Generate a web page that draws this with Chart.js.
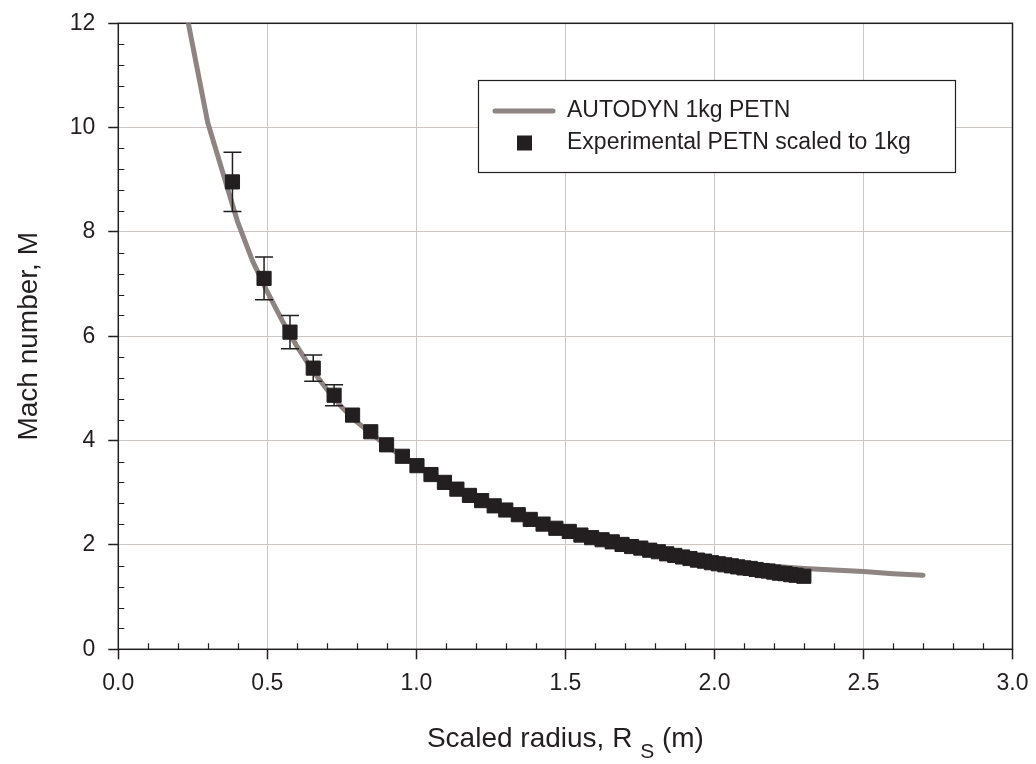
<!DOCTYPE html>
<html>
<head>
<meta charset="utf-8">
<script src="https://cdn.jsdelivr.net/npm/chart.js@4.4.1/dist/chart.umd.min.js"></script>
<style>
  html, body { margin: 0; padding: 0; background: #fff; }
  canvas { display: block; }
</style>
</head>
<body>
<canvas id="machChart" width="1036" height="764"></canvas>
<script>
// AUTODYN simulation, 1 kg PETN
const simRadius = [0.235, 0.30, 0.40, 0.45, 0.50, 0.55, 0.60, 0.65, 0.70, 0.75, 0.80, 0.90, 1.00,
  1.10, 1.20, 1.30, 1.40, 1.50, 1.60, 1.70, 1.80, 1.90, 2.00, 2.10, 2.20, 2.30, 2.40, 2.50, 2.60, 2.70];
const simMach = [12.0, 10.1, 8.2, 7.45, 6.85, 6.30, 5.80, 5.36, 4.98, 4.64, 4.36, 3.90, 3.52,
  3.20, 2.93, 2.68, 2.47, 2.28, 2.12, 1.98, 1.86, 1.76, 1.69, 1.63, 1.59, 1.55, 1.52, 1.49, 1.45, 1.42];

// experimental shock positions, scaled to 1 kg
const expRadius = [0.383, 0.489, 0.576, 0.654, 0.724, 0.786, 0.847, 0.900, 0.953, 1.002, 1.049, 1.094,
  1.136, 1.178, 1.219, 1.261, 1.300, 1.342, 1.382, 1.425, 1.468, 1.513, 1.552, 1.588, 1.623, 1.657,
  1.690, 1.722, 1.753, 1.783, 1.812, 1.840, 1.867, 1.893, 1.918, 1.943, 1.967, 1.990, 2.013, 2.035,
  2.057, 2.078, 2.099, 2.120, 2.140, 2.160, 2.180, 2.199, 2.218, 2.237, 2.256, 2.274, 2.300];
const expMach = [8.96, 7.11, 6.08, 5.39, 4.87, 4.49, 4.17, 3.92, 3.70, 3.52, 3.35, 3.20,
  3.07, 2.95, 2.85, 2.75, 2.67, 2.58, 2.49, 2.40, 2.32, 2.26, 2.19, 2.14, 2.10, 2.06,
  2.01, 1.97, 1.94, 1.90, 1.87, 1.83, 1.80, 1.77, 1.74, 1.71, 1.69, 1.66, 1.64, 1.62,
  1.60, 1.58, 1.56, 1.55, 1.53, 1.51, 1.50, 1.48, 1.46, 1.45, 1.43, 1.42, 1.40];
// +/- error on the first five measurements
const expError = [0.57, 0.41, 0.32, 0.25, 0.20];

const xTickValues = [0, 0.5, 1.0, 1.5, 2.0, 2.5, 3.0];
const yTickValues = [0, 2, 4, 6, 8, 10, 12];

const FONT = "'Liberation Sans', Arial, Helvetica, sans-serif";
const INK = '#231f20';
const SIM_COLOR = '#8e8481';
const GRID = '#cdc6c3';

// black frame plus the small inner ticks (0.1 on x, 0.4 on y)
const frameTicks = {
  id: 'frameTicks',
  beforeDatasetsDraw(chart) {
    const { ctx, chartArea: a, scales: { x, y } } = chart;
    ctx.save();
    ctx.strokeStyle = INK;
    ctx.lineWidth = 1.5;
    ctx.strokeRect(a.left, a.top, a.right - a.left, a.bottom - a.top);
    ctx.lineWidth = 1.2;
    ctx.beginPath();
    for (let i = 1; i < 30; i++) {
      if (i % 5 === 0) continue;
      const px = Math.round(x.getPixelForValue(i / 10)) + 0.5;
      ctx.moveTo(px, a.bottom);
      ctx.lineTo(px, a.bottom - 6);
    }
    for (let i = 1; i < 30; i++) {
      if (i % 5 === 0) continue;
      const py = Math.round(y.getPixelForValue(i * 0.4)) + 0.5;
      ctx.moveTo(a.left, py);
      ctx.lineTo(a.left + 6, py);
    }
    ctx.stroke();
    ctx.restore();
  }
};

// vertical error bars with caps
const errorBars = {
  id: 'errorBars',
  afterDatasetsDraw(chart) {
    const { ctx, scales: { x, y } } = chart;
    ctx.save();
    ctx.strokeStyle = INK;
    ctx.lineWidth = 1.5;
    ctx.beginPath();
    expError.forEach((err, i) => {
      const px = x.getPixelForValue(expRadius[i]);
      const top = y.getPixelForValue(expMach[i] + err);
      const bot = y.getPixelForValue(expMach[i] - err);
      ctx.moveTo(px, top); ctx.lineTo(px, bot);
      ctx.moveTo(px - 9, top); ctx.lineTo(px + 9, top);
      ctx.moveTo(px - 9, bot); ctx.lineTo(px + 9, bot);
    });
    ctx.stroke();
    ctx.restore();
  }
};

// boxed legend and the axis titles (x title carries a subscript)
const legendTitles = {
  id: 'legendTitles',
  afterDraw(chart) {
    const { ctx, chartArea: a } = chart;
    const sets = chart.data.datasets;
    ctx.save();
    // legend box
    ctx.fillStyle = '#fff';
    ctx.fillRect(478, 80, 477, 93);
    ctx.strokeStyle = INK;
    ctx.lineWidth = 1.2;
    ctx.strokeRect(478.5, 80.5, 477, 92);
    ctx.strokeStyle = SIM_COLOR;
    ctx.lineWidth = 5;
    ctx.lineCap = 'round';
    ctx.beginPath();
    ctx.moveTo(495, 111); ctx.lineTo(553, 111);
    ctx.stroke();
    ctx.fillStyle = INK;
    ctx.fillRect(517, 135.5, 15, 15);
    ctx.font = '23px ' + FONT;
    ctx.textBaseline = 'middle';
    ctx.textAlign = 'left';
    ctx.fillText(sets[1].label, 567, 111);
    ctx.fillText(sets[0].label, 567, 143);

    // x title: Scaled radius, R_S (m)
    const main = 'Scaled radius, R ';
    const sub = 'S';
    const tail = ' (m)';
    ctx.textBaseline = 'alphabetic';
    ctx.font = '28px ' + FONT;
    const w1 = ctx.measureText(main).width;
    const w3 = ctx.measureText(tail).width;
    ctx.font = '21px ' + FONT;
    const w2 = ctx.measureText(sub).width;
    let tx = (a.left + a.right) / 2 - (w1 + w2 + w3) / 2;
    ctx.font = '28px ' + FONT;
    ctx.fillText(main, tx, 747);
    ctx.font = '21px ' + FONT;
    ctx.fillText(sub, tx + w1, 758);
    ctx.font = '28px ' + FONT;
    ctx.fillText(tail, tx + w1 + w2, 747);

    // y title
    ctx.translate(37, (a.top + a.bottom) / 2);
    ctx.rotate(-Math.PI / 2);
    ctx.textAlign = 'center';
    ctx.fillText('Mach number, M', 0, 0);
    ctx.restore();
  }
};

new Chart(document.getElementById('machChart'), {
  type: 'scatter',
  data: {
    datasets: [
      {
        label: 'Experimental PETN scaled to 1kg',
        data: expRadius.map((r, i) => ({ x: r, y: expMach[i] })),
        pointStyle: 'rect',
        pointRadius: 10,
        pointBorderWidth: 1,
        backgroundColor: INK,
        borderColor: INK,
        showLine: false,
        order: 1
      },
      {
        type: 'line',
        label: 'AUTODYN 1kg PETN',
        data: simRadius.map((r, i) => ({ x: r, y: simMach[i] })),
        borderColor: SIM_COLOR,
        borderWidth: 5,
        borderCapStyle: 'round',
        borderJoinStyle: 'round',
        pointRadius: 0,
        tension: 0,
        fill: false,
        order: 2
      }
    ]
  },
  options: {
    responsive: false,
    animation: false,
    layout: { padding: { top: 23.3, right: 23.5, left: 0, bottom: 0 } },
    plugins: {
      legend: { display: false },
      tooltip: { enabled: false }
    },
    scales: {
      x: {
        type: 'linear',
        min: 0,
        max: 3,
        afterBuildTicks: s => { s.ticks = xTickValues.map(v => ({ value: v })); },
        afterFit: s => { s.height = 114.7; s.paddingLeft = 0; s.paddingRight = 0; },
        ticks: {
          callback: v => v.toFixed(1),
          font: { family: FONT, size: 23 },
          color: INK,
          padding: 11,
          maxRotation: 0
        },
        grid: { color: GRID, lineWidth: 1, tickLength: 10, tickColor: INK, tickWidth: 1.5 },
        border: { display: false }
      },
      y: {
        type: 'linear',
        min: 0,
        max: 12,
        afterBuildTicks: s => { s.ticks = yTickValues.map(v => ({ value: v })); },
        afterFit: s => { s.width = 118.3; s.paddingTop = 0; s.paddingBottom = 0; },
        ticks: {
          callback: v => String(v),
          font: { family: FONT, size: 23 },
          color: INK,
          padding: 13
        },
        grid: { color: GRID, lineWidth: 1, tickLength: 10, tickColor: INK, tickWidth: 1.5 },
        border: { display: false }
      }
    }
  },
  plugins: [frameTicks, errorBars, legendTitles]
});
</script>
</body>
</html>
